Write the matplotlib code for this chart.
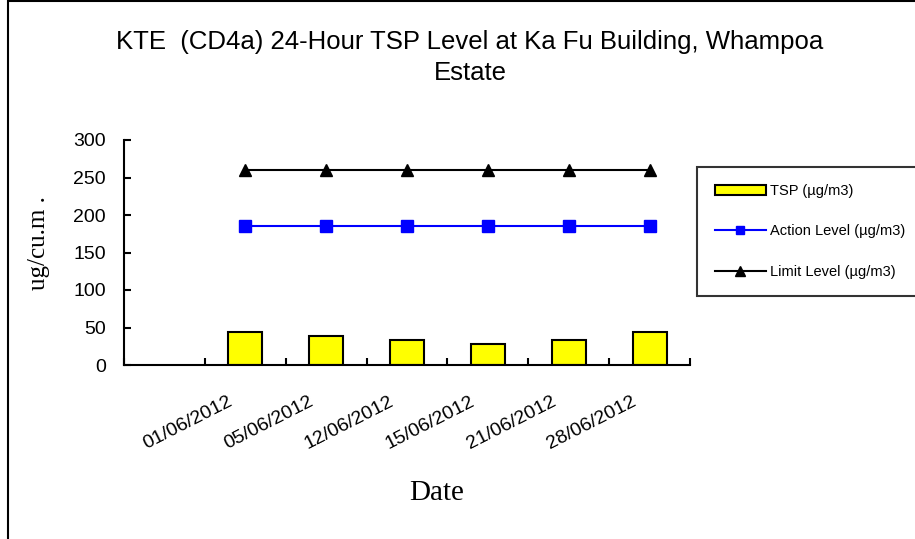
import matplotlib
matplotlib.use("Agg")
import matplotlib.pyplot as plt
from matplotlib.patches import Rectangle
from matplotlib.transforms import ScaledTranslation
import numpy as np

# sampling dates at Ka Fu Building (first slot left blank on the axis)
dates = ["", "01/06/2012", "05/06/2012", "12/06/2012", "15/06/2012", "21/06/2012", "28/06/2012"]
tsp = [np.nan, 44, 39, 34, 28, 34, 44]
action_level = [np.nan, 186, 186, 186, 186, 186, 186]
limit_level = [np.nan, 260, 260, 260, 260, 260, 260]

W, H = 915, 539
fig = plt.figure(figsize=(W / 100, H / 100), dpi=100, facecolor='w')
ax = fig.add_axes([124 / W, 1 - 365 / H, 566 / W, 225 / H])

x = np.arange(len(dates))
bars = ax.bar(x, tsp, width=0.42, color='#FFFF00', edgecolor='k', linewidth=1.5, label="TSP (\u00b5g/m3)")
l_act, = ax.plot(x, action_level, color='#0000FF', lw=1.5, marker='s', markersize=8,
                 label="Action Level (\u00b5g/m3)")
l_lim, = ax.plot(x, limit_level, color='k', lw=1.5, marker='^', markersize=9,
                 label="Limit Level (\u00b5g/m3)")

ax.set_xlim(-0.5, len(dates) - 0.5)
ax.set_ylim(0, 300)
ax.set_yticks(np.arange(0, 301, 50))
ax.spines['top'].set_visible(False)
ax.spines['right'].set_visible(False)
for s in ['left', 'bottom']:
    ax.spines[s].set_linewidth(1.5)

# boundary ticks between dates, labels centred under each date
ax.set_xticks(np.arange(-0.5, len(dates), 1.0))
ax.set_xticklabels([])
ax.set_xticks(x, minor=True)
ax.set_xticklabels(dates, minor=True, rotation=27, ha='right', rotation_mode='anchor',
                   fontsize=14, family='Liberation Sans')
ax.tick_params(axis='x', which='minor', length=0, pad=20)
shift = ScaledTranslation(-18 / 100, 0, fig.dpi_scale_trans)
for t in ax.get_xticklabels(minor=True):
    t.set_transform(t.get_transform() + shift)
ax.tick_params(axis='both', which='major', direction='in', length=5, width=1.5)
ax.tick_params(axis='y', labelsize=14, pad=13)
for t in ax.get_yticklabels():
    t.set_family('Liberation Sans')

ax.set_ylabel("ug/cu.m .", family='Liberation Serif', fontsize=18)
ax.yaxis.set_label_coords(50 / W, 1 - 243 / H, transform=fig.transFigure)
fig.text(437 / W, 1 - 493 / H, "Date", family='Liberation Serif', fontsize=21, ha='center', va='center')

fig.text(470 / W, 1 - 42 / H, "KTE  (CD4a) 24-Hour TSP Level at Ka Fu Building, Whampoa",
         family='Liberation Sans', fontsize=18.5, ha='center', va='center')
fig.text(470 / W, 1 - 73 / H, "Estate",
         family='Liberation Sans', fontsize=18.5, ha='center', va='center')

leg = fig.legend([bars, l_act, l_lim], [bars.get_label(), l_act.get_label(), l_lim.get_label()],
                 loc='upper left', bbox_to_anchor=(697 / W, 1 - 172 / H, 230 / W, 0.01),
                 mode='expand', borderaxespad=0, frameon=True, fancybox=False, edgecolor='k',
                 prop={'family': 'Liberation Sans', 'size': 10.5}, handlelength=3.5, handletextpad=0.3,
                 labelspacing=1.8, borderpad=1.2, numpoints=1, markerscale=0.8)
leg.get_frame().set_linewidth(1.5)

# outer border of the chart area
fig.patches.append(Rectangle((8 / W, -0.1), 1.2, 1.1 - 1.5 / H, transform=fig.transFigure,
                             fill=False, edgecolor='k', linewidth=1.5, clip_on=False))

fig.savefig("out.png", dpi=100)
